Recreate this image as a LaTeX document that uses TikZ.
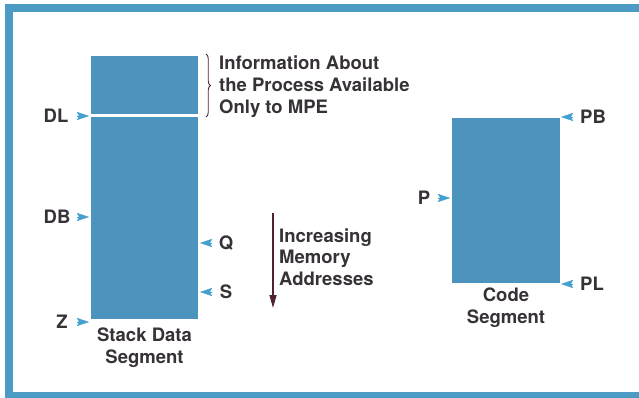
\documentclass[tikz,border=0pt]{standalone}
\usepackage{fontspec}
\setmainfont{TeX Gyre Heros}
\usetikzlibrary{arrows.meta,decorations.pathreplacing}
\definecolor{seg}{RGB}{76,148,190}
\definecolor{frm}{RGB}{75,155,196}
\definecolor{ptrc}{RGB}{68,160,206}
\definecolor{txt}{RGB}{55,50,55}
\definecolor{mar}{RGB}{80,35,50}
\tikzset{
  segbox/.style={fill=seg, draw=none, inner sep=0pt},
  lbl/.style={inner sep=0pt, text=txt, font=\fontsize{18.5}{21.5}\selectfont\bfseries},
  ptr/.style={draw=ptrc, line width=0.3pt, -{Stealth[length=12pt,width=8pt,inset=2pt,fill=ptrc]}},
  incr/.style={draw=mar, line width=1.5pt, -{Triangle[length=13pt,width=7pt]}},
  bracestyle/.style={draw=mar, line width=0.9pt, decorate, decoration={brace, amplitude=4.5pt}}
}
\begin{document}
\begin{tikzpicture}[x=1pt,y=-1pt]
\useasboundingbox (0,0) rectangle (639,398);
% frame (open on the right, as cropped)
\fill[white] (0,0) rectangle (639,398);
\fill[frm] (5,4) rectangle (13,398);
\fill[frm] (5,4) rectangle (639,12);
\fill[frm] (5,392) rectangle (639,398);
% stack data segment
\node[segbox, minimum width=107pt, minimum height=58pt] (top) at (144.5,85) {};
\node[segbox, minimum width=107pt, minimum height=202pt] (stack) at (144.5,218) {};
\node[lbl, align=center] (stacklbl) at (144.5,347.5) {Stack Data\\Segment};
% code segment
\node[segbox, minimum width=108pt, minimum height=165pt] (code) at (506,200.5) {};
\node[lbl, align=center] (codelbl) at (506,307.5) {Code\\Segment};
% labels
\node[lbl] (DL) at (56,116) {DL};
\node[lbl] (DB) at (57,217) {DB};
\node[lbl] (Z) at (62,322) {Z};
\node[lbl] (Q) at (226,243) {Q};
\node[lbl] (S) at (226,292) {S};
\node[lbl] (P) at (424,198) {P};
\node[lbl] (PB) at (593,117) {PB};
\node[lbl] (PL) at (592,284) {PL};
% pointer coordinates
\coordinate (dl1) at (77,116); \coordinate (dl2) at (89,116);
\coordinate (db1) at (77,217); \coordinate (db2) at (89,217);
\coordinate (z1) at (77,322);  \coordinate (z2) at (89,322);
\coordinate (q1) at (212,243); \coordinate (q2) at (200,243);
\coordinate (s1) at (212,292); \coordinate (s2) at (200,292);
\coordinate (p1) at (438,198); \coordinate (p2) at (450,198);
\coordinate (pb1) at (573,117); \coordinate (pb2) at (561,117);
\coordinate (pl1) at (573,284); \coordinate (pl2) at (561,284);
\foreach \a/\b in {dl1/dl2,db1/db2,z1/z2,q1/q2,s1/s2,p1/p2,pb1/pb2,pl1/pl2}
  \draw[ptr] (\a) -- (\b);
% brace and info text
\coordinate (br1) at (206,54); \coordinate (br2) at (206,117);
\draw[bracestyle] (br1) -- (br2);
\node[lbl, align=left, anchor=west, font=\fontsize{18.5}{22}\selectfont\bfseries] (info) at (219,86.5) {Information About\\the Process Available\\Only to MPE};
% increasing arrow
\coordinate (in1) at (273,213); \coordinate (in2) at (273,308);
\draw[incr] (in1) -- (in2);
\node[lbl, align=left, anchor=west] (incrlbl) at (279,257) {Increasing\\Memory\\Addresses};
\end{tikzpicture}
\end{document}
